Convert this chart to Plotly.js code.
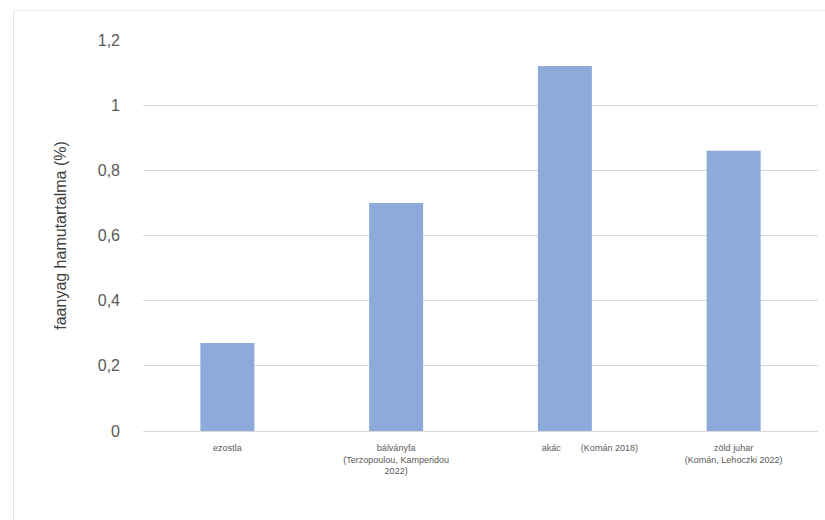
<!DOCTYPE html>
<html>
<head>
<meta charset="utf-8">
<script src="https://cdn.plot.ly/plotly-3.0.1.min.js"></script>
<style>
html,body{margin:0;padding:0;background:#fff;}
#wrap{position:relative;width:825px;height:520px;}
#chart{width:825px;height:520px;}
#frame{position:absolute;left:13px;top:10px;right:0;bottom:0;border-left:1px solid #e4e4e4;border-top:1px solid #ececec;pointer-events:none;}
</style>
</head>
<body>
<div id="wrap"><div id="chart"></div><div id="frame"></div></div>
<script>
const categories = [
  "ezostla",
  "bálványfa<br>(Terzopoulou, Kamperidou<br>2022)",
  "\u00a0".repeat(20) + "akác" + "\u00a0".repeat(8) + "(Komán 2018)",
  "zöld juhar<br>(Komán, Lehoczki 2022)"
];
const values = [0.27, 0.70, 1.12, 0.86];
const yTickVals = [0, 0.2, 0.4, 0.6, 0.8, 1, 1.2];
const yTitle = "faanyag hamutartalma (%)";

const trace = {
  type: "bar",
  x: categories,
  y: values,
  marker: {color: "#8eaadb"},
  hoverinfo: "none"
};

const layout = {
  width: 825, height: 520,
  margin: {l: 143, r: 7, t: 40, b: 89},
  paper_bgcolor: "#ffffff",
  plot_bgcolor: "#ffffff",
  separators: ",.",
  bargap: 0.68,
  showlegend: false,
  font: {family: "Liberation Sans, Arial, sans-serif", color: "#595959"},
  xaxis: {
    type: "category",
    tickfont: {size: 9, color: "#595959"},
    ticks: "",
    showline: true,
    linecolor: "#d9d9d9",
    linewidth: 1,
    showgrid: false,
    tickangle: 0,
    ticklabelstandoff: 8,
    fixedrange: true
  },
  yaxis: {
    range: [0, 1.2],
    tickvals: yTickVals,
    tickfont: {size: 16, color: "#595959"},
    showgrid: true,
    gridcolor: "#d9d9d9",
    gridwidth: 1,
    zeroline: false,
    showline: false,
    ticks: "",
    ticklabelstandoff: 22,
    automargin: false,
    title: {text: yTitle, font: {size: 16, color: "#404040"}, standoff: 27},
    fixedrange: true
  }
};

Plotly.newPlot("chart", [trace], layout, {displayModeBar: false, staticPlot: true});
</script>
</body>
</html>
